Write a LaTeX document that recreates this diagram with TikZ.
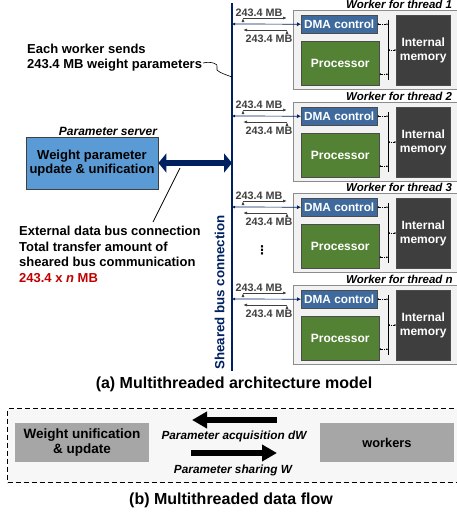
\documentclass[tikz,border=0pt]{standalone}
\usepackage{fontspec}
\setmainfont{Liberation Sans}
\newfontfamily\symfont{DejaVu Sans}
\usetikzlibrary{arrows.meta}
\definecolor{busblue}{RGB}{0,32,96}
\definecolor{dmablue}{RGB}{62,106,158}
\definecolor{procgreen}{RGB}{84,130,53}
\definecolor{memgray}{RGB}{62,62,62}
\definecolor{psblue}{RGB}{91,155,213}
\definecolor{palegray}{RGB}{242,242,242}
\definecolor{flowgray}{RGB}{166,166,166}
\definecolor{darkred}{RGB}{192,0,0}
\begin{document}
\begin{tikzpicture}[x=1pt,y=-1pt,font=\bfseries]
		\tikzset{box/.style = {draw,inner sep=0pt,anchor=north west,align=center}}
		\tikzset{workerbox/.style = {box,draw=gray!90,fill=palegray,line width=1pt,minimum width=180pt,minimum height=79pt}}
		\tikzset{dmabox/.style = {box,draw=black!70,fill=dmablue,text=white,minimum width=76pt,minimum height=18pt,font=\bfseries\fontsize{11.8}{13}\selectfont}}
		\tikzset{procbox/.style = {box,draw=black!70,fill=procgreen,text=white,minimum width=78pt,minimum height=44pt,font=\bfseries\fontsize{12}{13}\selectfont}}
		\tikzset{membox/.style = {box,draw=black!70,fill=memgray,text=white,minimum width=54pt,minimum height=70pt,font=\bfseries\fontsize{12}{14}\selectfont}}
		\tikzset{mblabel/.style = {font=\bfseries\fontsize{10.8}{12}\selectfont,inner sep=1pt}}
		\tikzset{tinylink/.style = {densely dotted,{Latex[length=1.5pt,width=2pt]}-{Latex[length=1.5pt,width=2pt]},line width=0.6pt}}
		\tikzset{flowarrow/.style = {line width=6.5pt,-{Triangle[length=15pt,width=16pt]}}}
		\tikzset{plain/.style = {font=\bfseries\fontsize{13}{15.6}\selectfont,align=left,inner sep=0pt}}
		\tikzset{flowlabel/.style = {font=\bfseries\itshape\fontsize{11.8}{13}\selectfont}}
		\useasboundingbox (0,0) rectangle (456,515);
		% shared bus
		\coordinate (busTop) at (232,3);
		\coordinate (busBot) at (232,371);
		\draw[busblue,line width=1.6pt] (busTop) -- (busBot);
		\node[rotate=90,busblue,font=\bfseries\fontsize{13.3}{15}\selectfont] (busLabel) at (219.5,292.5) {Sheared bus connection};
		% workers
		\foreach \ty/\n in {10/1,102/2,193/3,285/n} {
			\node[workerbox] (w\n) at (293,\ty) {};
			\node[anchor=south west,inner sep=1pt,font=\bfseries\itshape\fontsize{11.5}{13}\selectfont] (wt\n) at (345,\ty) {Worker for thread \n};
			\node[dmabox] (dma\n) at (301,\ty+5) {DMA control};
			\node[procbox] (proc\n) at (301,\ty+31) {Processor};
			\node[membox] (mem\n) at (396,\ty+5) {Internal\\memory};
			\coordinate (bt\n) at (388,\ty+10);
			\coordinate (bb\n) at (388,\ty+70);
			\coordinate (bm\n) at (388,\ty+40);
			\draw[line width=1pt] (bt\n) -- (bb\n);
			\draw[tinylink] (dma\n.east) -- (dma\n.east -| bt\n);
			\draw[tinylink] (proc\n.east) ++(0,11) coordinate (pa\n) -- (pa\n -| bt\n);
			\draw[tinylink] (bm\n) -- (bm\n -| mem\n.west);
			\coordinate (bus\n) at (232,\ty+14);
			\draw[busblue,line width=0.7pt,{Latex[length=3pt,width=3pt]}-{Latex[length=4pt,width=4pt]}] (bus\n) -- (dma\n.west);
			\coordinate (up\n a) at (243,\ty+8);
			\coordinate (up\n b) at (287,\ty+8);
			\coordinate (dn\n a) at (287,\ty+20);
			\coordinate (dn\n b) at (243,\ty+20);
			\path[draw,black!75,line width=0.8pt,-{Latex[length=4pt,width=3pt]}] (up\n a) edge node[mblabel,above,xshift=-6pt] {243.4 MB} (up\n b);
			\path[draw,black!75,line width=0.8pt,-{Latex[length=4pt,width=3pt]}] (dn\n a) edge node[mblabel,below=3.5pt,xshift=4pt] {243.4 MB} (dn\n b);
		}
		\node[font=\symfont\bfseries\fontsize{12}{14}\selectfont,inner sep=0pt] (vdots) at (262,250) {⋮};
		% parameter server
		\node[box,anchor=center,draw=black!75,fill=psblue,line width=0.8pt,minimum width=132pt,minimum height=52pt,font=\bfseries\fontsize{13}{14.5}\selectfont] (ps) at (92,163) {Weight parameter\\update \& unification};
		\node[anchor=south,inner sep=1.5pt,font=\bfseries\itshape\fontsize{12}{13}\selectfont] (psTitle) at (108,137) {Parameter server};
		\coordinate (busMid) at (232,163);
		\draw[busblue,line width=6pt,{Triangle[length=8pt,width=19pt]}-{Triangle[length=8pt,width=19pt]}] (ps.east) -- (busMid);
		% annotations
		\node[plain,anchor=west] (sendNote) at (27,57.5) {Each worker sends\\243.4 MB weight parameters};
		\coordinate (sendEnd) at (203,63);
		\coordinate (busHit) at (232,77);
		\draw[line width=0.6pt] (sendEnd) .. controls (211,61) and (219,64) .. (217,67) .. controls (214,71) and (224,74) .. (busHit);
		\node[plain,anchor=north west] (extNote) at (19,226) {External data bus connection\\Total transfer amount of\\sheared bus communication\\\textcolor{darkred}{243.4 x \textit{n} MB}};
		\coordinate (arrowPt) at (180,168);
		\coordinate (notePt) at (153,222);
		\draw[line width=0.7pt] (arrowPt) -- (notePt);
		\node[font=\bfseries\fontsize{16}{18}\selectfont] (capA) at (234,384) {(a) Multithreaded architecture model};
		% data flow
		\node[box,draw=black,dashed,dash pattern=on 5pt off 3pt,fill=palegray!60,line width=1pt,minimum width=470pt,minimum height=74pt] (flow) at (7,408) {};
		\node[box,anchor=center,draw=none,fill=flowgray,minimum width=134pt,minimum height=39pt,font=\bfseries\fontsize{13.5}{15}\selectfont] (wu) at (82,442.5) {Weight unification\\\& update};
		\node[box,anchor=center,draw=none,fill=flowgray,minimum width=134pt,minimum height=39pt,font=\bfseries\fontsize{12.8}{15}\selectfont] (wk) at (387,442.5) {workers};
		\coordinate (accA) at (277,420);
		\coordinate (accB) at (192,420);
		\coordinate (shrA) at (191,453);
		\coordinate (shrB) at (277,453);
		\draw[flowarrow] (accA) -- (accB);
		\draw[flowarrow] (shrA) -- (shrB);
		\node[flowlabel] (accLabel) at (234,436.5) {Parameter acquisition dW};
		\node[flowlabel] (shrLabel) at (233,470) {Parameter sharing W};
		\node[font=\bfseries\fontsize{16}{18}\selectfont] (capB) at (231,500) {(b) Multithreaded data flow};
	\end{tikzpicture}
\end{document}
